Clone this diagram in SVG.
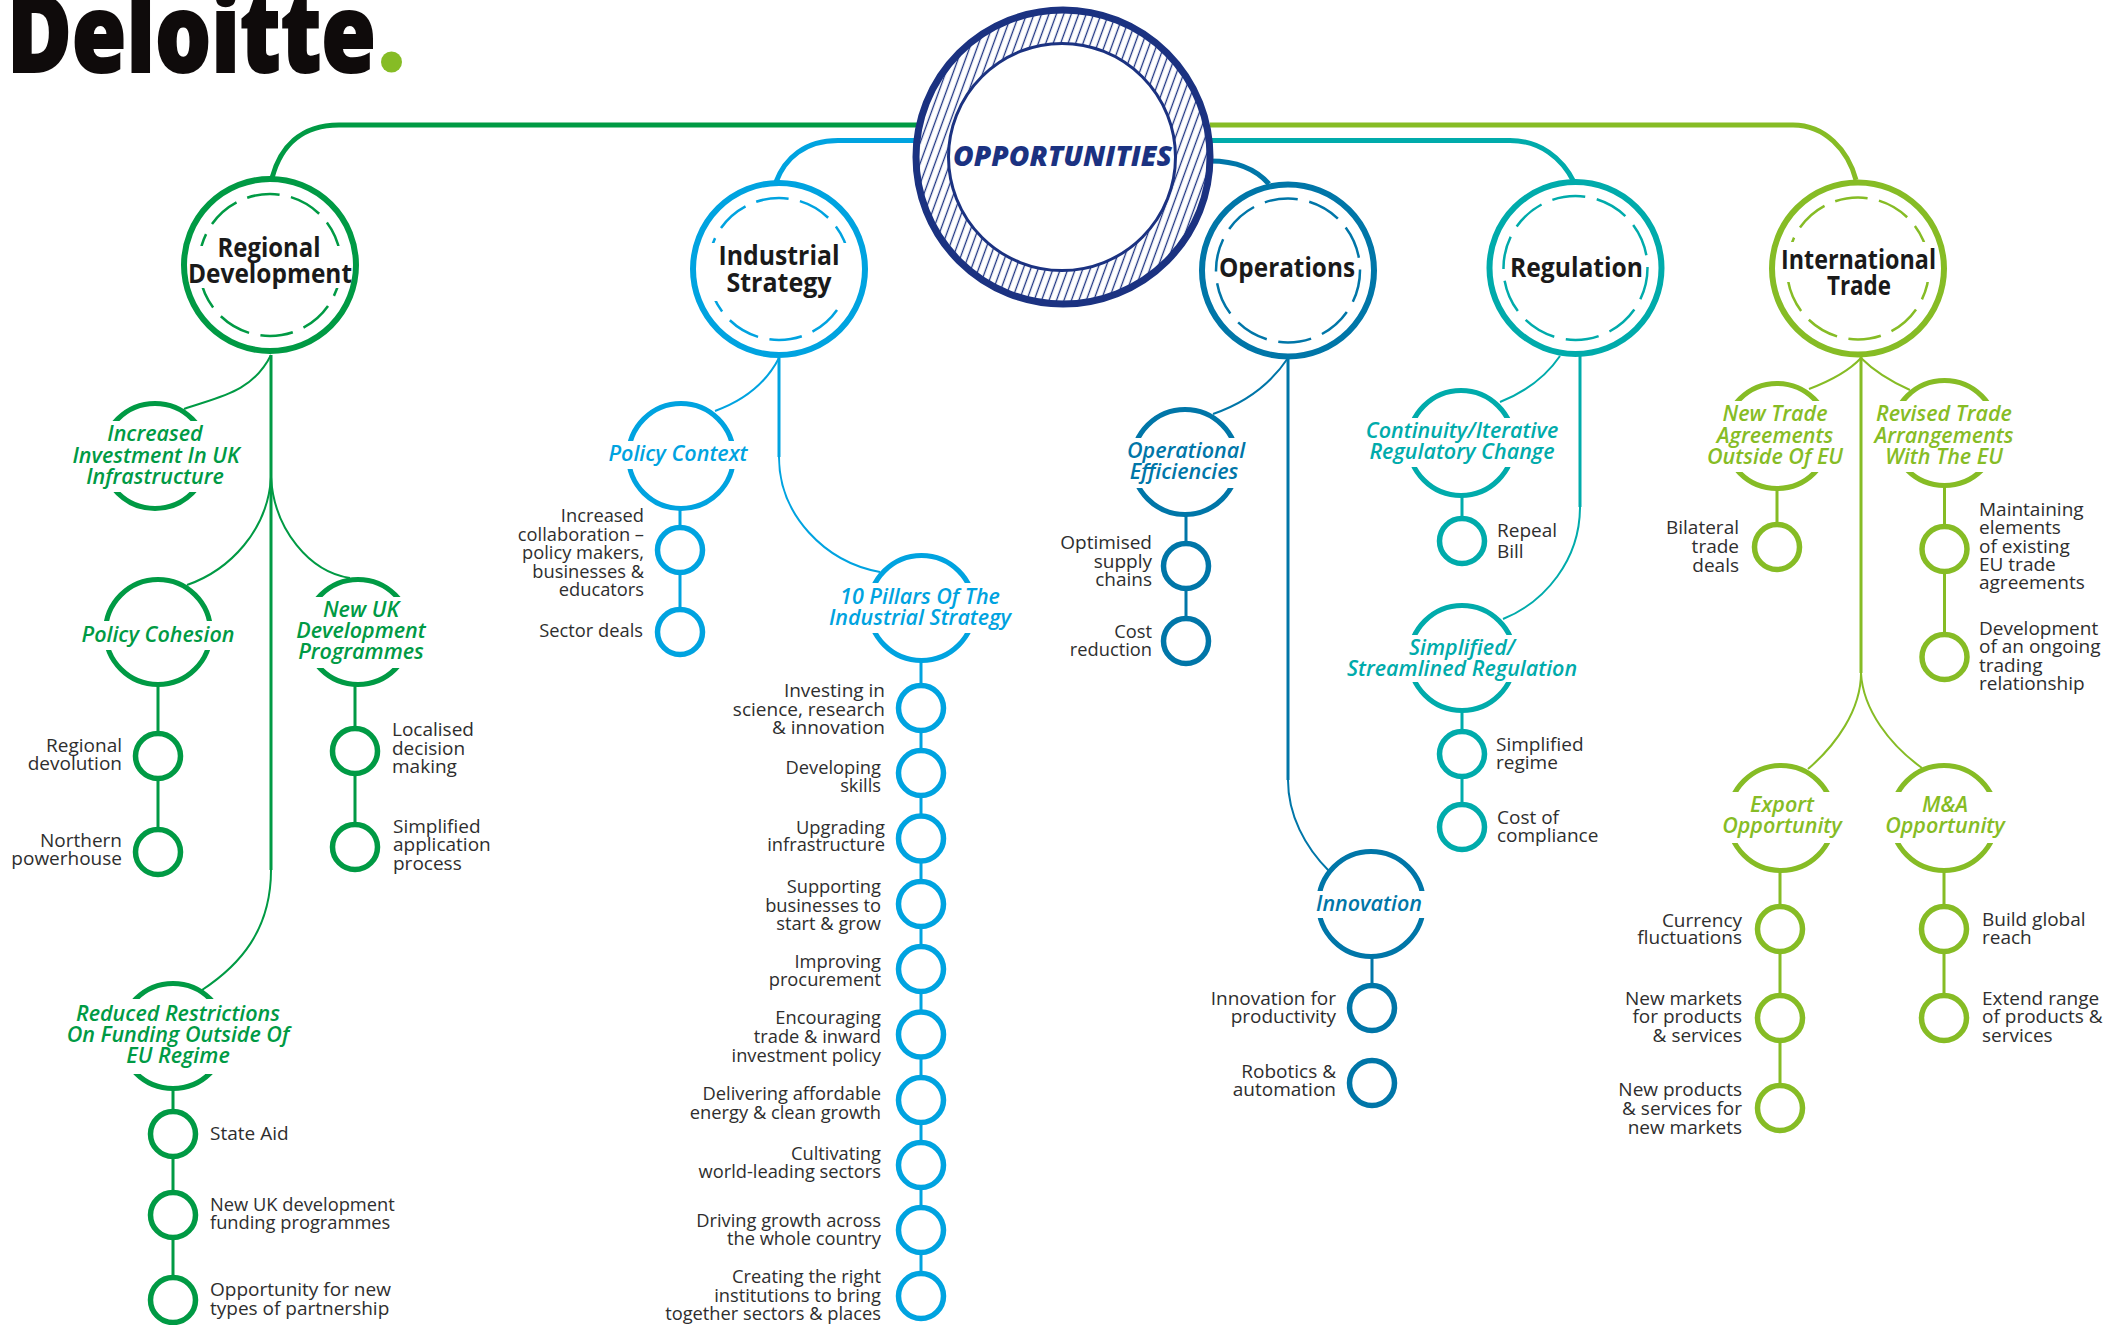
<svg xmlns="http://www.w3.org/2000/svg" width="2116" height="1325" viewBox="0 0 2116 1325">
<style>
text{font-family:"Open Sans","Noto Sans",sans-serif}
.gr{--c:#009a44}.bl{--c:#00a3e0}.op{--c:#0076a8}.re{--c:#00abab}.in{--c:#86bc25}
.bar{fill:none;stroke:var(--c);stroke-width:5}
.cv{fill:none;stroke:var(--c);stroke-width:2}
.st{fill:none;stroke:var(--c);stroke-width:3}
.o{fill:#fff;stroke:var(--c);stroke-width:6}
.d{fill:none;stroke:var(--c);stroke-width:2.500;stroke-dasharray:34 12;stroke-dashoffset:139}
.s{fill:#fff;stroke:var(--c);stroke-width:5.500}
.l{fill:#fff;stroke:var(--c);stroke-width:5}
.w{fill:#fff}
.tt{fill:#1a1a1a;font-size:26px;font-weight:700;text-anchor:middle}
.si{fill:var(--c);font-size:21.500px;font-weight:600;font-style:italic;text-anchor:middle}
.b{fill:#2e2e2e;font-size:19px}
.n{font-size:18.300px}
.e{text-anchor:end}
</style>
<defs>
<pattern id="hatch" width="7" height="20" patternUnits="userSpaceOnUse" patternTransform="rotate(20)">
<rect width="7" height="20" fill="#fff"/>
<line x1="3.500" y1="0" x2="3.500" y2="20" stroke="#1b3281" stroke-width="1.300"/>
</pattern>
</defs>

<g id="logo">
<text x="7" y="72" font-size="108" font-weight="800" fill="#0f0b0b" stroke="#0f0b0b" stroke-width="2" textLength="369" lengthAdjust="spacingAndGlyphs">Deloitte</text>
<ellipse cx="391.500" cy="62" rx="10.500" ry="10.500" fill="#86bc25"/>
</g>

<g id="connectors">
<g class="gr">
<path class="bar" d="M920,125H339C300,125 280,148 272,178"/>
<path class="cv" d="M271,355C252,393 218,397 184,409"/>
<path class="st" d="M271,355V870"/>
<path class="cv" d="M271,870C271,930 240,965 202,990"/>
<path class="cv" d="M271,477C268,530 230,570 187,585"/>
<path class="cv" d="M271,477C274,530 310,572 350,578"/>
<path class="st" d="M158,680V852M355,680V847M173,1085V1300"/>
</g>
<g class="bl">
<path class="bar" d="M920,140.500H838C805,140.500 785,158 776,182"/>
<path class="cv" d="M779,358C765,385 740,402 715,411"/>
<path class="st" d="M779,358V457"/>
<path class="cv" d="M779,457C779,515 825,562 880,572"/>
<path class="st" d="M680,505V632M921,660V1296"/>
</g>
<g class="op">
<path class="bar" d="M1210,161C1235,161 1255,168 1269,184"/>
<path class="cv" d="M1288,358C1270,385 1245,403 1213,414"/>
<path class="st" d="M1288,358V780"/>
<path class="cv" d="M1288,780C1288,815 1305,847 1329,871"/>
<path class="st" d="M1186,510V641M1372,955V1008"/>
</g>
<g class="re">
<path class="bar" d="M1210,140.500H1510C1540,140.500 1562,158 1574,182"/>
<path class="cv" d="M1560,356C1545,378 1525,392 1500,402"/>
<path class="st" d="M1580,356V507"/>
<path class="cv" d="M1580,507C1580,560 1545,602 1503,619"/>
<path class="st" d="M1462,490V541M1462,705V827"/>
</g>
<g class="in">
<path class="bar" d="M1210,125H1793C1825,125 1848,150 1856,180"/>
<path class="st" d="M1861,356V673"/>
<path class="cv" d="M1861,358C1848,372 1830,381 1809,389"/>
<path class="cv" d="M1861,358C1875,372 1892,382 1910,390"/>
<path class="cv" d="M1861,673C1861,710 1836,745 1808,769"/>
<path class="cv" d="M1861,673C1863,710 1890,745 1922,768"/>
<path class="st" d="M1777,485V547M1944.500,485V657M1780,868V1108M1944,868V1018"/>
</g>
</g>

<g id="opportunities">
<circle cx="1063" cy="157" r="147" fill="url(#hatch)" stroke="#1b3281" stroke-width="7"/>
<circle cx="1062" cy="157" r="113.500" fill="#fff" stroke="#1b3281" stroke-width="3"/>
<text x="1062.500" y="166" text-anchor="middle" font-size="28" font-weight="800" font-style="italic" fill="#1b3281" textLength="219" lengthAdjust="spacingAndGlyphs">OPPORTUNITIES</text>
</g>

<g id="regional-development" class="gr">
<circle class="o" cx="270" cy="265" r="86"/><circle class="d" cx="270" cy="265" r="71" pathLength="460"/>
<rect class="w" x="196" y="246" width="148" height="42"/>
<text class="tt" x="269" y="257" textLength="103" lengthAdjust="spacingAndGlyphs">Regional</text>
<text class="tt" x="270" y="283" textLength="164" lengthAdjust="spacingAndGlyphs">Development</text>
</g>
<g id="industrial-strategy" class="bl">
<circle class="o" cx="779" cy="269" r="86"/><circle class="d" cx="779" cy="269" r="71" pathLength="460"/>
<rect class="w" x="705" y="243" width="148" height="58"/>
<text class="tt" x="779" y="265" textLength="121" lengthAdjust="spacingAndGlyphs">Industrial</text>
<text class="tt" x="779" y="292" textLength="105" lengthAdjust="spacingAndGlyphs">Strategy</text>
</g>
<g id="operations" class="op">
<circle class="o" cx="1288" cy="270.500" r="86"/><circle class="d" cx="1288" cy="270.500" r="72" pathLength="460"/>
<text class="tt" x="1287" y="277" textLength="136" lengthAdjust="spacingAndGlyphs">Operations</text>
</g>
<g id="regulation" class="re">
<circle class="o" cx="1575.500" cy="268" r="86"/><circle class="d" cx="1575.500" cy="268" r="72" pathLength="460"/>
<text class="tt" x="1576.500" y="277" textLength="133" lengthAdjust="spacingAndGlyphs">Regulation</text>
</g>
<g id="international-trade" class="in">
<circle class="o" cx="1858" cy="268.500" r="86"/><circle class="d" cx="1858" cy="268.500" r="71" pathLength="460"/>
<rect class="w" x="1784" y="242" width="148" height="40"/>
<text class="tt" x="1858.500" y="269" textLength="155" lengthAdjust="spacingAndGlyphs">International</text>
<text class="tt" x="1859" y="295" textLength="64" lengthAdjust="spacingAndGlyphs">Trade</text>
</g>

<g id="increased-investment" class="gr">
<circle class="l" cx="155" cy="456" r="52.500"/><rect class="w" x="95" y="421" width="120" height="71"/>
<text class="si"><tspan x="155" y="441">Increased</tspan><tspan x="156" y="463">Investment In UK</tspan><tspan x="155" y="484">Infrastructure</tspan></text>
</g>
<g id="policy-cohesion" class="gr">
<circle class="l" cx="158" cy="632" r="52.500"/><rect class="w" x="98" y="621" width="120" height="29"/>
<text class="si" x="158" y="642">Policy Cohesion</text>
</g>
<g id="new-uk-development" class="gr">
<circle class="l" cx="358" cy="632" r="52.500"/><rect class="w" x="298" y="597" width="120" height="71"/>
<text class="si"><tspan x="361" y="617">New UK</tspan><tspan x="361" y="638">Development</tspan><tspan x="361" y="659">Programmes</tspan></text>
</g>
<g id="reduced-restrictions" class="gr">
<circle class="l" cx="173" cy="1036" r="52.500"/><rect class="w" x="113" y="999" width="120" height="75"/>
<text class="si"><tspan x="178" y="1021">Reduced Restrictions</tspan><tspan x="178" y="1042">On Funding Outside Of</tspan><tspan x="178" y="1063">EU Regime</tspan></text>
</g>
<g id="regional-devolution" class="gr"><circle class="s" cx="158" cy="756" r="22.500"/>
<text class="b e"><tspan x="122" y="752">Regional</tspan><tspan x="122" y="770">devolution</tspan></text></g>
<g id="northern-powerhouse" class="gr"><circle class="s" cx="158" cy="852" r="22.500"/>
<text class="b e"><tspan x="122" y="847">Northern</tspan><tspan x="122" y="865">powerhouse</tspan></text></g>
<g id="localised-decision" class="gr"><circle class="s" cx="355" cy="751" r="22.500"/>
<text class="b"><tspan x="392" y="736">Localised</tspan><tspan x="392" y="754.500">decision</tspan><tspan x="392" y="773">making</tspan></text></g>
<g id="simplified-application" class="gr"><circle class="s" cx="355" cy="847" r="22.500"/>
<text class="b"><tspan x="393" y="833">Simplified</tspan><tspan x="393" y="851">application</tspan><tspan x="393" y="870">process</tspan></text></g>
<g id="state-aid" class="gr"><circle class="s" cx="173" cy="1134" r="22.500"/>
<text class="b" x="210" y="1140">State Aid</text></g>
<g id="new-uk-funding" class="gr"><circle class="s" cx="173" cy="1215" r="22.500"/>
<text class="b n"><tspan x="210" y="1211">New UK development</tspan><tspan x="210" y="1229">funding programmes</tspan></text></g>
<g id="opportunity-partnership" class="gr"><circle class="s" cx="173" cy="1300" r="22.500"/>
<text class="b"><tspan x="210" y="1296">Opportunity for new</tspan><tspan x="210" y="1315">types of partnership</tspan></text></g>

<g id="policy-context" class="bl">
<circle class="l" cx="681" cy="456" r="52.500"/><rect class="w" x="621" y="441" width="120" height="28"/>
<text class="si" x="678" y="461">Policy Context</text>
</g>
<g id="ten-pillars" class="bl">
<circle class="l" cx="921.500" cy="608" r="52.500"/><rect class="w" x="861" y="583" width="120" height="50"/>
<text class="si"><tspan x="920" y="604">10 Pillars Of The</tspan><tspan x="920" y="625">Industrial Strategy</tspan></text>
</g>
<g id="increased-collaboration" class="bl"><circle class="s" cx="680" cy="550" r="22.500"/>
<text class="b e n"><tspan x="644" y="522">Increased</tspan><tspan x="644" y="541">collaboration –</tspan><tspan x="644" y="559">policy makers,</tspan><tspan x="644" y="578">businesses &amp;</tspan><tspan x="644" y="596">educators</tspan></text></g>
<g id="sector-deals" class="bl"><circle class="s" cx="680" cy="632" r="22.500"/>
<text class="b e n" x="643" y="637">Sector deals</text></g>
<g id="pillar-1" class="bl"><circle class="s" cx="921" cy="708" r="22.500"/>
<text class="b e"><tspan x="885" y="697">Investing in</tspan><tspan x="885" y="715.500">science, research</tspan><tspan x="885" y="734">&amp; innovation</tspan></text></g>
<g id="pillar-2" class="bl"><circle class="s" cx="921" cy="773" r="22.500"/>
<text class="b e n"><tspan x="881" y="774">Developing</tspan><tspan x="881" y="792">skills</tspan></text></g>
<g id="pillar-3" class="bl"><circle class="s" cx="921" cy="838.500" r="22.500"/>
<text class="b e n"><tspan x="885" y="834">Upgrading</tspan><tspan x="885" y="851">infrastructure</tspan></text></g>
<g id="pillar-4" class="bl"><circle class="s" cx="921" cy="904" r="22.500"/>
<text class="b e n"><tspan x="881" y="893">Supporting</tspan><tspan x="881" y="911.500">businesses to</tspan><tspan x="881" y="930">start &amp; grow</tspan></text></g>
<g id="pillar-5" class="bl"><circle class="s" cx="921" cy="969" r="22.500"/>
<text class="b e n"><tspan x="881" y="968">Improving</tspan><tspan x="881" y="986">procurement</tspan></text></g>
<g id="pillar-6" class="bl"><circle class="s" cx="921" cy="1034.500" r="22.500"/>
<text class="b e n"><tspan x="881" y="1024">Encouraging</tspan><tspan x="881" y="1042.500">trade &amp; inward</tspan><tspan x="881" y="1061.500">investment policy</tspan></text></g>
<g id="pillar-7" class="bl"><circle class="s" cx="921" cy="1100" r="22.500"/>
<text class="b e n"><tspan x="881" y="1100">Delivering affordable</tspan><tspan x="881" y="1119">energy &amp; clean growth</tspan></text></g>
<g id="pillar-8" class="bl"><circle class="s" cx="921" cy="1165" r="22.500"/>
<text class="b e n"><tspan x="881" y="1159.500">Cultivating</tspan><tspan x="881" y="1178">world-leading sectors</tspan></text></g>
<g id="pillar-9" class="bl"><circle class="s" cx="921" cy="1230" r="22.500"/>
<text class="b e n"><tspan x="881" y="1226.500">Driving growth across</tspan><tspan x="881" y="1245">the whole country</tspan></text></g>
<g id="pillar-10" class="bl"><circle class="s" cx="921" cy="1296" r="22.500"/>
<text class="b e n"><tspan x="881" y="1282.500">Creating the right</tspan><tspan x="881" y="1301.500">institutions to bring</tspan><tspan x="881" y="1320">together sectors &amp; places</tspan></text></g>

<g id="operational-efficiencies" class="op">
<circle class="l" cx="1185" cy="462" r="52.500"/><rect class="w" x="1125" y="438" width="120" height="50"/>
<text class="si"><tspan x="1186" y="458">Operational</tspan><tspan x="1184" y="479">Efficiencies</tspan></text>
</g>
<g id="innovation" class="op">
<circle class="l" cx="1371" cy="904" r="52.500"/><rect class="w" x="1311" y="891" width="120" height="27"/>
<text class="si" x="1369" y="911">Innovation</text>
</g>
<g id="optimised-supply" class="op"><circle class="s" cx="1186" cy="566" r="22.500"/>
<text class="b e"><tspan x="1152" y="549">Optimised</tspan><tspan x="1152" y="568">supply</tspan><tspan x="1152" y="586">chains</tspan></text></g>
<g id="cost-reduction" class="op"><circle class="s" cx="1186" cy="641" r="22.500"/>
<text class="b e n"><tspan x="1152" y="638">Cost</tspan><tspan x="1152" y="656">reduction</tspan></text></g>
<g id="innovation-productivity" class="op"><circle class="s" cx="1372" cy="1008" r="22.500"/>
<text class="b e"><tspan x="1336" y="1005">Innovation for</tspan><tspan x="1336" y="1023">productivity</tspan></text></g>
<g id="robotics-automation" class="op"><circle class="s" cx="1372" cy="1083" r="22.500"/>
<text class="b e"><tspan x="1336" y="1078">Robotics &amp;</tspan><tspan x="1336" y="1096">automation</tspan></text></g>

<g id="continuity-change" class="re">
<circle class="l" cx="1461" cy="443" r="52.500"/><rect class="w" x="1401" y="418" width="120" height="49"/>
<text class="si"><tspan x="1462" y="438">Continuity/Iterative</tspan><tspan x="1462" y="459">Regulatory Change</tspan></text>
</g>
<g id="simplified-regulation" class="re">
<circle class="l" cx="1462" cy="658" r="52.500"/><rect class="w" x="1402" y="635" width="120" height="47"/>
<text class="si"><tspan x="1462" y="655">Simplified/</tspan><tspan x="1462" y="676">Streamlined Regulation</tspan></text>
</g>
<g id="repeal-bill" class="re"><circle class="s" cx="1462" cy="541" r="22.500"/>
<text class="b"><tspan x="1497" y="537">Repeal</tspan><tspan x="1497" y="558">Bill</tspan></text></g>
<g id="simplified-regime" class="re"><circle class="s" cx="1462" cy="754" r="22.500"/>
<text class="b"><tspan x="1496" y="751">Simplified</tspan><tspan x="1496" y="769">regime</tspan></text></g>
<g id="cost-compliance" class="re"><circle class="s" cx="1462" cy="827" r="22.500"/>
<text class="b"><tspan x="1497" y="824">Cost of</tspan><tspan x="1497" y="842">compliance</tspan></text></g>

<g id="new-trade-agreements" class="in">
<circle class="l" cx="1777" cy="436" r="52.500"/><rect class="w" x="1717" y="401" width="120" height="71"/>
<text class="si"><tspan x="1775" y="421">New Trade</tspan><tspan x="1775" y="443">Agreements</tspan><tspan x="1775" y="464">Outside Of EU</tspan></text>
</g>
<g id="revised-trade" class="in">
<circle class="l" cx="1944.500" cy="433" r="52.500"/><rect class="w" x="1884" y="401" width="120" height="71"/>
<text class="si"><tspan x="1944" y="421">Revised Trade</tspan><tspan x="1944" y="443">Arrangements</tspan><tspan x="1944" y="464">With The EU</tspan></text>
</g>
<g id="export-opportunity" class="in">
<circle class="l" cx="1781" cy="818" r="52.500"/><rect class="w" x="1721" y="792" width="120" height="51"/>
<text class="si"><tspan x="1782" y="812">Export</tspan><tspan x="1782" y="833">Opportunity</tspan></text>
</g>
<g id="ma-opportunity" class="in">
<circle class="l" cx="1944" cy="818" r="52.500"/><rect class="w" x="1884" y="792" width="120" height="51"/>
<text class="si"><tspan x="1945" y="812">M&amp;A</tspan><tspan x="1945" y="833">Opportunity</tspan></text>
</g>
<g id="bilateral-deals" class="in"><circle class="s" cx="1777" cy="547" r="22.500"/>
<text class="b e"><tspan x="1739" y="534">Bilateral</tspan><tspan x="1739" y="553">trade</tspan><tspan x="1739" y="572">deals</tspan></text></g>
<g id="maintaining-elements" class="in"><circle class="s" cx="1944.500" cy="549" r="22.500"/>
<text class="b"><tspan x="1979" y="516">Maintaining</tspan><tspan x="1979" y="534">elements</tspan><tspan x="1979" y="553">of existing</tspan><tspan x="1979" y="571">EU trade</tspan><tspan x="1979" y="589">agreements</tspan></text></g>
<g id="ongoing-relationship" class="in"><circle class="s" cx="1944.500" cy="657" r="22.500"/>
<text class="b"><tspan x="1979" y="635">Development</tspan><tspan x="1979" y="653">of an ongoing</tspan><tspan x="1979" y="672">trading</tspan><tspan x="1979" y="690">relationship</tspan></text></g>
<g id="currency-fluctuations" class="in"><circle class="s" cx="1780" cy="929" r="22.500"/>
<text class="b e"><tspan x="1742" y="927">Currency</tspan><tspan x="1742" y="944">fluctuations</tspan></text></g>
<g id="new-markets" class="in"><circle class="s" cx="1780" cy="1018" r="22.500"/>
<text class="b e"><tspan x="1742" y="1005">New markets</tspan><tspan x="1742" y="1023">for products</tspan><tspan x="1742" y="1042">&amp; services</tspan></text></g>
<g id="new-products" class="in"><circle class="s" cx="1780" cy="1108" r="22.500"/>
<text class="b e"><tspan x="1742" y="1096">New products</tspan><tspan x="1742" y="1115">&amp; services for</tspan><tspan x="1742" y="1134">new markets</tspan></text></g>
<g id="global-reach" class="in"><circle class="s" cx="1944" cy="929" r="22.500"/>
<text class="b"><tspan x="1982" y="926">Build global</tspan><tspan x="1982" y="944">reach</tspan></text></g>
<g id="extend-range" class="in"><circle class="s" cx="1944" cy="1018" r="22.500"/>
<text class="b"><tspan x="1982" y="1005">Extend range</tspan><tspan x="1982" y="1023">of products &amp;</tspan><tspan x="1982" y="1042">services</tspan></text></g>
</svg>
